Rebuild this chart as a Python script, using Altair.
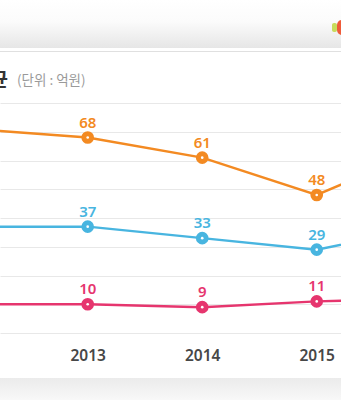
import altair as alt
import pandas as pd

# ---- data ----
years = [2012, 2013, 2014, 2015, 2016]
series_names = ["A", "B", "C"]
series_a = [71, 68, 61, 48, 65]   # orange
series_b = [37, 37, 33, 29, 37]   # blue
series_c = [10, 10, 9, 11, 12]    # pink
colors = ["#F38A22", "#48B5E0", "#E6356E"]
tick_years = [2013, 2014, 2015]
grid_values = [0, 10, 20, 30, 40, 50, 60, 70, 80]
title_text = "평균"
unit_text = "(단위 : 억원)"

rows = []
for name, vals in zip(series_names, [series_a, series_b, series_c]):
    for yr, v in zip(years, vals):
        rows.append({"year": yr, "value": v, "series": name})
df = pd.DataFrame(rows)
one = pd.DataFrame({"k": [0]})

W, H = 341, 230
TOP, BOTTOM = 103, 67

x = alt.X(
    "year:Q",
    scale=alt.Scale(domain=[2012.234, 2015.212], nice=False, zero=False),
    axis=alt.Axis(values=tick_years, format="d", title=None, domain=False,
                  ticks=False, grid=False, labelPadding=15, labelFontSize=15.5,
                  labelColor="#474747", labelFontWeight=600, labelFont="Noto Sans"),
)
y = alt.Y(
    "value:Q",
    scale=alt.Scale(domain=[0, 80], nice=False),
    axis=alt.Axis(values=grid_values, labels=False, ticks=False, domain=False,
                  title=None, grid=True, gridColor="#e8e8e8", gridWidth=1),
)
color = alt.Color("series:N", scale=alt.Scale(domain=series_names, range=colors), legend=None)

header_grad = alt.LinearGradient(
    gradient="linear", x1=0, y1=0, x2=0, y2=1,
    stops=[alt.GradientStop(offset=0, color="#ffffff"),
           alt.GradientStop(offset=0.45, color="#fbfbfb"),
           alt.GradientStop(offset=1, color="#e6e6e6")],
)
bottom_grad = alt.LinearGradient(
    gradient="linear", x1=0, y1=0, x2=0, y2=1,
    stops=[alt.GradientStop(offset=0, color="#ebebeb"),
           alt.GradientStop(offset=1, color="#f8f8f8")],
)

dec = alt.Chart(one)
header = dec.mark_rect(fill=header_grad).encode(
    x=alt.value(0), x2=alt.value(W), y=alt.value(-TOP), y2=alt.value(-TOP + 48))
sep = dec.mark_rule(color="#e0e0e0", strokeWidth=1).encode(
    x=alt.value(0), x2=alt.value(W), y=alt.value(-TOP + 51.5))
bottom = dec.mark_rect(fill=bottom_grad).encode(
    x=alt.value(0), x2=alt.value(W), y=alt.value(H + 45), y2=alt.value(H + BOTTOM))
logo_g = dec.mark_rect(fill="#c8dc5c", cornerRadius=2).encode(
    x=alt.value(332), x2=alt.value(337), y=alt.value(-TOP + 23), y2=alt.value(-TOP + 32))
logo_r = dec.mark_rect(fill="#ef5b3a", cornerRadius=5).encode(
    x=alt.value(337), x2=alt.value(348), y=alt.value(-TOP + 20), y2=alt.value(-TOP + 35))
title = dec.mark_text(align="right", baseline="middle", fontSize=19, fontWeight="bold",
                      font="Noto Sans CJK KR", color="#333333").encode(
    x=alt.value(8), y=alt.value(-22.5), text=alt.value(title_text))
unit = dec.mark_text(align="left", baseline="middle", fontSize=13.5,
                     font="Noto Sans CJK KR", color="#9a9a9a").encode(
    x=alt.value(17), y=alt.value(-22.5), text=alt.value(unit_text))

base = alt.Chart(df)
line = base.mark_line(strokeWidth=2.5, clip=True).encode(x=x, y=y, color=color)
pts = base.mark_circle(size=160, opacity=1, clip=True).encode(x=x, y=y, color=color)
dots = base.mark_circle(size=7, opacity=1, color="white", clip=True).encode(x=x, y=y)
labels = base.transform_filter(
    alt.FieldOneOfPredicate(field="year", oneOf=tick_years)
).mark_text(dy=-15, fontSize=15, fontWeight=600, font="Noto Sans",
            baseline="middle").encode(x=x, y=y, text="value:Q", color=color)

chart = alt.layer(header, sep, bottom, logo_g, logo_r, title, unit,
                  line, pts, dots, labels).properties(
    width=W, height=H,
    padding={"left": 0, "right": 0, "top": TOP, "bottom": BOTTOM},
    autosize="none", background="white",
).configure_view(stroke=None)

chart.save("out.html", embed_options={"renderer": "svg", "actions": False})
